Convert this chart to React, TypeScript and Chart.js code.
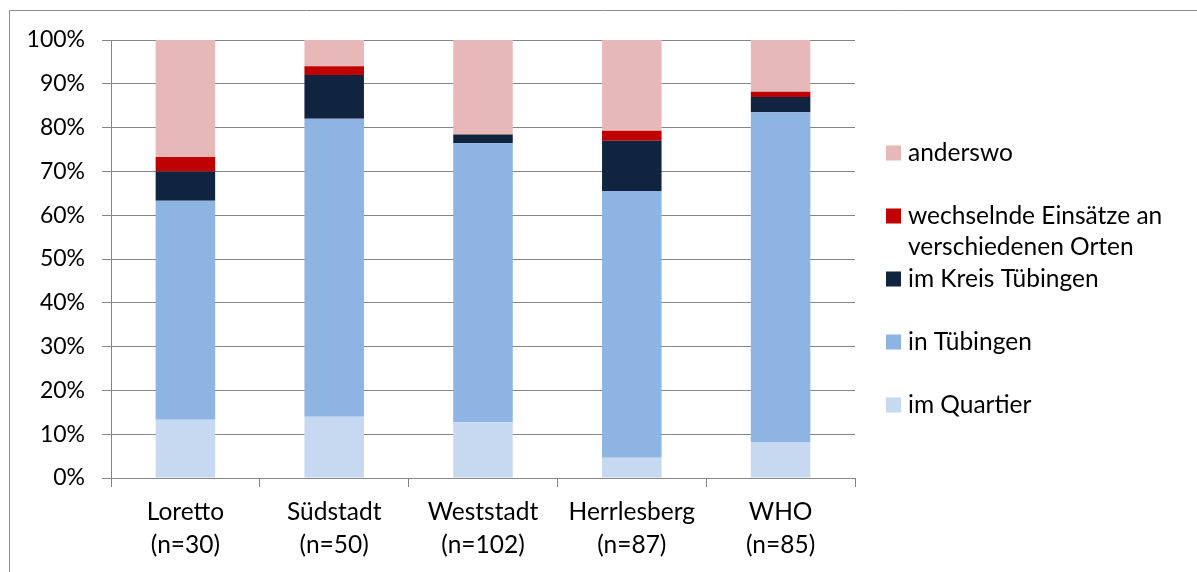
import React, { useEffect, useRef } from "react";
import { Chart, registerables } from "chart.js";

Chart.register(...registerables);

const categories: string[][] = [
  ["Loretto", "(n=30)"],
  ["Südstadt", "(n=50)"],
  ["Weststadt", "(n=102)"],
  ["Herrlesberg", "(n=87)"],
  ["WHO", "(n=85)"],
];

const seriesLabels = [
  "im Quartier",
  "in Tübingen",
  "im Kreis Tübingen",
  "wechselnde Einsätze an\nverschiedenen Orten",
  "anderswo",
];

const imQuartier = [13.3, 14.0, 12.7, 4.6, 8.2];
const inTuebingen = [50.0, 68.0, 63.7, 60.9, 75.3];
const imKreis = [6.7, 10.0, 2.0, 11.5, 3.5];
const wechselnd = [3.3, 2.0, 0.0, 2.3, 1.2];
const anderswo = [26.7, 6.0, 21.6, 20.7, 11.8];

const seriesColors = ["#C6D9F1", "#8EB4E3", "#10243F", "#C00000", "#E6B9B8"];

const yTicks = [0, 10, 20, 30, 40, 50, 60, 70, 80, 90, 100];

const FONT = "Lato, 'Open Sans', sans-serif";
const GRID = "#868686";

const framePlugin = {
  id: "frame",
  beforeDraw(chart: any) {
    const ctx = chart.ctx;
    ctx.save();
    ctx.strokeStyle = "#8c8c8c";
    ctx.lineWidth = 1;
    ctx.beginPath();
    ctx.moveTo(9.5, chart.height);
    ctx.lineTo(9.5, 10.5);
    ctx.lineTo(chart.width, 10.5);
    ctx.stroke();
    ctx.restore();
  },
};

const legendPlugin = {
  id: "customLegend",
  afterDraw(chart: any) {
    const ctx = chart.ctx;
    const area = chart.chartArea;
    const items = chart.data.datasets
      .map((d: any) => ({ label: String(d.label), color: d.backgroundColor }))
      .reverse();
    ctx.save();
    ctx.font = `24.5px ${FONT}`;
    ctx.textBaseline = "middle";
    ctx.textAlign = "left";
    const boxX = area.right + 31;
    const textX = area.right + 53;
    items.forEach((it: any, i: number) => {
      const cy = area.top + 113 + i * 63;
      ctx.fillStyle = it.color;
      ctx.fillRect(boxX, cy - 7.5, 15, 15);
      ctx.fillStyle = "#000";
      it.label.split("\n").forEach((line: string, j: number) => {
        ctx.fillText(line, textX, cy + j * 31);
      });
    });
    ctx.restore();
  },
};

export default function App() {
  const ref = useRef<HTMLCanvasElement | null>(null);

  useEffect(() => {
    if (!ref.current) return;
    const series = [imQuartier, inTuebingen, imKreis, wechselnd, anderswo];
    const chart = new Chart(ref.current, {
      type: "bar",
      data: {
        labels: categories,
        datasets: series.map((data, i) => ({
          label: seriesLabels[i],
          data,
          backgroundColor: seriesColors[i],
          borderWidth: 0,
          categoryPercentage: 1,
          barPercentage: 0.4,
        })),
      },
      options: {
        animation: false,
        responsive: false,
        maintainAspectRatio: false,
        layout: { padding: { left: 0, top: 40, right: 342, bottom: 0 } },
        plugins: {
          legend: { display: false },
          tooltip: { enabled: false },
        },
        scales: {
          x: {
            stacked: true,
            afterFit: (s: any) => {
              s.height = 94;
            },
            grid: {
              offset: true,
              drawOnChartArea: false,
              color: GRID,
              tickLength: 9,
              lineWidth: 1,
            },
            border: { display: true, color: GRID, width: 1 },
            ticks: {
              color: "#000",
              font: { family: FONT, size: 24.5, lineHeight: 33 / 24.5 },
              padding: 9,
              maxRotation: 0,
            },
          },
          y: {
            stacked: true,
            min: 0,
            max: 100,
            afterFit: (s: any) => {
              s.width = 111;
            },
            afterBuildTicks: (s: any) => {
              s.ticks = yTicks.map((v) => ({ value: v }));
            },
            grid: { color: GRID, tickLength: 9, lineWidth: 1 },
            border: { display: true, color: GRID, width: 1 },
            ticks: {
              color: "#000",
              font: { family: FONT, size: 23 },
              padding: 17,
              callback: (v: any) => `${v}%`,
            },
          },
        },
      },
      plugins: [framePlugin, legendPlugin],
    });
    return () => chart.destroy();
  }, []);

  return (
    <div style={{ position: "fixed", left: 0, top: 0, width: 1197, height: 572, background: "#fff" }}>
      <canvas ref={ref} width={1197} height={572} style={{ display: "block" }} />
    </div>
  );
}
